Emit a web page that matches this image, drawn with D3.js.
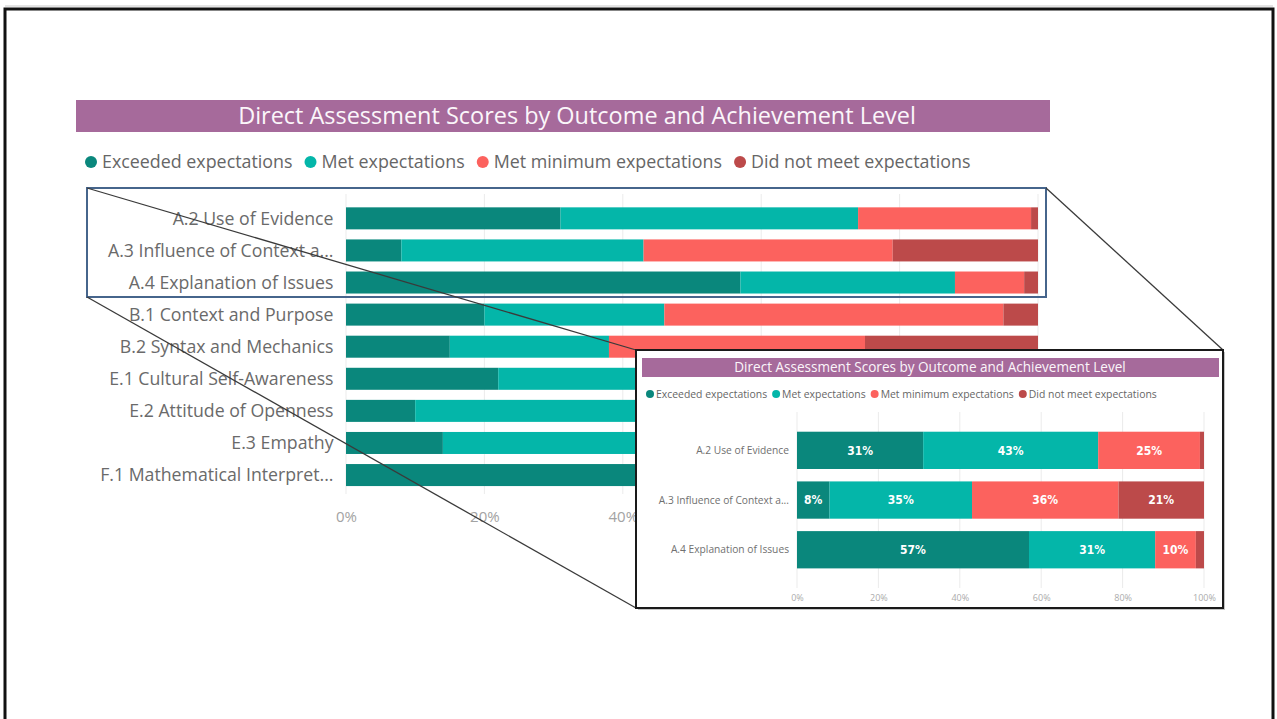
<!DOCTYPE html>
<html>
<head>
<meta charset="utf-8">
<script src="https://cdn.jsdelivr.net/npm/d3@7"></script>
<style>
  body { margin: 0; background: #fff; }
  svg { display: block; }
</style>
</head>
<body>
<svg id="slide" width="1277" height="719"></svg>
<script>
// ---- data -------------------------------------------------------------
const categories = [
  "A.2 Use of Evidence",
  "A.3 Influence of Context a...",
  "A.4 Explanation of Issues",
  "B.1 Context and Purpose",
  "B.2 Syntax and Mechanics",
  "E.1 Cultural Self-Awareness",
  "E.2 Attitude of Openness",
  "E.3 Empathy",
  "F.1 Mathematical Interpret..."
];
// percentage of students at each achievement level, per outcome
const exceeded = [31, 8, 57, 20, 15, 22, 10, 14, 62];
const met      = [43, 35, 31, 26, 23, 46, 55, 50, 26];
const metMin   = [25, 36, 10, 49, 37, 27, 30, 30, 10];
const didNot   = [1, 21, 2, 5, 25, 5, 5, 6, 2];

const seriesNames = [
  "Exceeded expectations",
  "Met expectations",
  "Met minimum expectations",
  "Did not meet expectations"
];
const tickValues = [0, 20, 40, 60, 80, 100];
const insetCategories = categories.slice(0, 3);
const chartTitle = "Direct Assessment Scores by Outcome and Achievement Level";

// ---- styling ----------------------------------------------------------
const FONT = "'Open Sans', 'Noto Sans', sans-serif";
const VALUE_FONT = "'DejaVu Sans Condensed', 'DejaVu Sans', sans-serif";
const PURPLE = "#A66A9B";
const colors = ["#0A877C", "#04B6A9", "#FC625E", "#BC4A4A"];
const keys = ["exceeded", "met", "metMin", "didNot"];

const table = categories.map((c, i) => ({
  cat: c, exceeded: exceeded[i], met: met[i], metMin: metMin[i], didNot: didNot[i]
}));
const stacked = d3.stack().keys(keys)(table);

const svg = d3.select("#slide");

// scale a text element's font so its rendered width equals target
function fitText(sel, target) {
  const fs = parseFloat(sel.attr("font-size"));
  const w = sel.node().getComputedTextLength();
  const size = fs * target / w;
  sel.attr("font-size", size);
  return size;
}

// slide frame
svg.append("line").attr("x1", 5).attr("x2", 1273).attr("y1", 6).attr("y2", 6)
  .attr("stroke", "#c8c8c8").attr("stroke-width", 1);
svg.append("path").attr("d", "M5,725 L5,9 L1273,9 L1273,725")
  .attr("fill", "none").attr("stroke", "#111").attr("stroke-width", 3);

function drawTitle(g, x, y, w, h, textWidth, textCx) {
  g.append("rect").attr("x", x).attr("y", y).attr("width", w).attr("height", h).attr("fill", PURPLE);
  const t = g.append("text")
    .attr("x", textCx).attr("y", y + h / 2).attr("dy", "0.35em")
    .attr("text-anchor", "middle").attr("font-family", FONT)
    .attr("font-size", 20).attr("fill", "#fbf6fa").text(chartTitle);
  fitText(t, textWidth);
}

// legend laid out left to right; font sized so the row ends at xEnd
function drawLegend(g, x0, xEnd, cy, r, gap, itemGap, color) {
  const probeSize = 14;
  const widths = seriesNames.map(name => {
    const p = g.append("text").attr("font-family", FONT).attr("font-size", probeSize).text(name);
    const w = p.node().getComputedTextLength();
    p.remove();
    return w;
  });
  const fixed = seriesNames.length * (2 * r + gap) + (seriesNames.length - 1) * itemGap;
  const fs = probeSize * (xEnd - x0 - fixed) / d3.sum(widths);
  let x = x0;
  seriesNames.forEach((name, i) => {
    g.append("circle").attr("cx", x + r).attr("cy", cy).attr("r", r).attr("fill", colors[i]);
    const t = g.append("text").attr("x", x + 2 * r + gap).attr("y", cy).attr("dy", "0.35em")
      .attr("font-family", FONT).attr("font-size", fs).attr("fill", color).text(name);
    x = x + 2 * r + gap + t.node().getComputedTextLength() + itemGap;
  });
}

function drawBars(g, cats, cfg) {
  const x = d3.scaleLinear().domain([0, 100]).range([cfg.x0, cfg.x1]);
  const y = d3.scaleBand().domain(cats).range(cfg.yRange)
    .paddingInner(cfg.padInner).paddingOuter(cfg.padInner / 2);

  // vertical gridlines
  g.append("g").selectAll("line").data(tickValues).join("line")
    .attr("x1", d => x(d)).attr("x2", d => x(d))
    .attr("y1", cfg.gridTop).attr("y2", cfg.gridBottom)
    .attr("stroke", "#ebebeb").attr("stroke-width", 1);

  // stacked segments
  const layers = g.append("g").selectAll("g").data(stacked).join("g")
    .attr("fill", (d, i) => colors[i]);
  layers.selectAll("rect")
    .data(d => d.filter(s => cats.includes(s.data.cat)))
    .join("rect")
    .attr("x", d => x(d[0])).attr("width", d => x(d[1]) - x(d[0]))
    .attr("y", d => y(d.data.cat)).attr("height", y.bandwidth());

  if (cfg.values) {
    layers.selectAll("text.v")
      .data((d, i) => d.filter(s => cats.includes(s.data.cat)).map(s => ({ s, key: keys[i] })))
      .join("text").attr("class", "v")
      .filter(d => d.s.data[d.key] >= 5)
      .attr("x", d => (x(d.s[0]) + x(d.s[1])) / 2)
      .attr("y", d => y(d.s.data.cat) + y.bandwidth() / 2)
      .attr("dy", "0.36em").attr("text-anchor", "middle")
      .attr("font-family", VALUE_FONT).attr("font-weight", "bold")
      .attr("font-stretch", "condensed")
      .attr("font-size", cfg.valueSize).attr("fill", "#fff")
      .text(d => d.s.data[d.key] + "%");
  }

  // category axis
  const yAxis = g.append("g").attr("transform", `translate(${cfg.labelRight},0)`)
    .call(d3.axisLeft(y).tickSize(0).tickPadding(0));
  yAxis.select(".domain").remove();
  yAxis.selectAll("text").attr("font-family", FONT).attr("font-size", 14)
    .attr("fill", cfg.labelColor).attr("dy", "0.35em");
  const probe = yAxis.selectAll("text").filter(d => d === cats[0]);
  const fs = fitText(probe, cfg.firstLabelWidth);
  yAxis.selectAll("text").attr("font-size", fs);

  // percentage axis
  const xAxis = g.append("g").attr("transform", `translate(0,${cfg.tickY})`)
    .call(d3.axisBottom(x).tickValues(tickValues).tickFormat(d => d + "%").tickSize(0).tickPadding(0));
  xAxis.select(".domain").remove();
  xAxis.selectAll("text").attr("font-family", FONT).attr("font-size", cfg.tickSize)
    .attr("fill", cfg.tickColor).attr("y", 0).attr("dy", "0.35em");
}

// ---- main chart -------------------------------------------------------
const main = svg.append("g");
drawTitle(main, 76, 100, 974, 32, 678, 577);
drawLegend(main, 85, 971, 162, 6, 5, 12, "#666");
drawBars(main, categories, {
  x0: 346, x1: 1038,
  yRange: [202.3, 491.1], padInner: 0.314,
  gridTop: 194, gridBottom: 494,
  labelRight: 333.5, firstLabelWidth: 161, labelColor: "#6a6a6a",
  tickY: 517, tickSize: 15, tickColor: "#a3a3a3",
  values: false
});

// highlighted group and the call-out lines to the detail panel
svg.append("rect").attr("x", 87).attr("y", 188).attr("width", 959).attr("height", 109)
  .attr("fill", "none").attr("stroke", "#46658C").attr("stroke-width", 2);
const connectors = [
  [[87, 188], [636, 350]],
  [[87, 297], [636, 608]],
  [[1046, 188], [1223, 350]]
];
svg.append("g").selectAll("line").data(connectors).join("line")
  .attr("x1", d => d[0][0]).attr("y1", d => d[0][1])
  .attr("x2", d => d[1][0]).attr("y2", d => d[1][1])
  .attr("stroke", "#3a3a3a").attr("stroke-width", 1.3);

// ---- detail panel -----------------------------------------------------
const inset = svg.append("g");
inset.append("rect").attr("x", 638).attr("y", 352).attr("width", 587).attr("height", 258)
  .attr("fill", "#c4c4c4");
inset.append("rect").attr("x", 636).attr("y", 350).attr("width", 587).attr("height", 258)
  .attr("fill", "#fff").attr("stroke", "#1a1a1a").attr("stroke-width", 2);
drawTitle(inset, 642, 358, 577, 19, 392, 930);
drawLegend(inset, 646, 1157, 394, 4, 2, 5, "#666");
drawBars(inset, insetCategories, {
  x0: 797, x1: 1204,
  yRange: [425.5, 574.6], padInner: 0.25,
  gridTop: 412, gridBottom: 588,
  labelRight: 789, firstLabelWidth: 93, labelColor: "#707070",
  tickY: 598, tickSize: 9, tickColor: "#ababab",
  values: true, valueSize: 12
});
</script>
</body>
</html>
